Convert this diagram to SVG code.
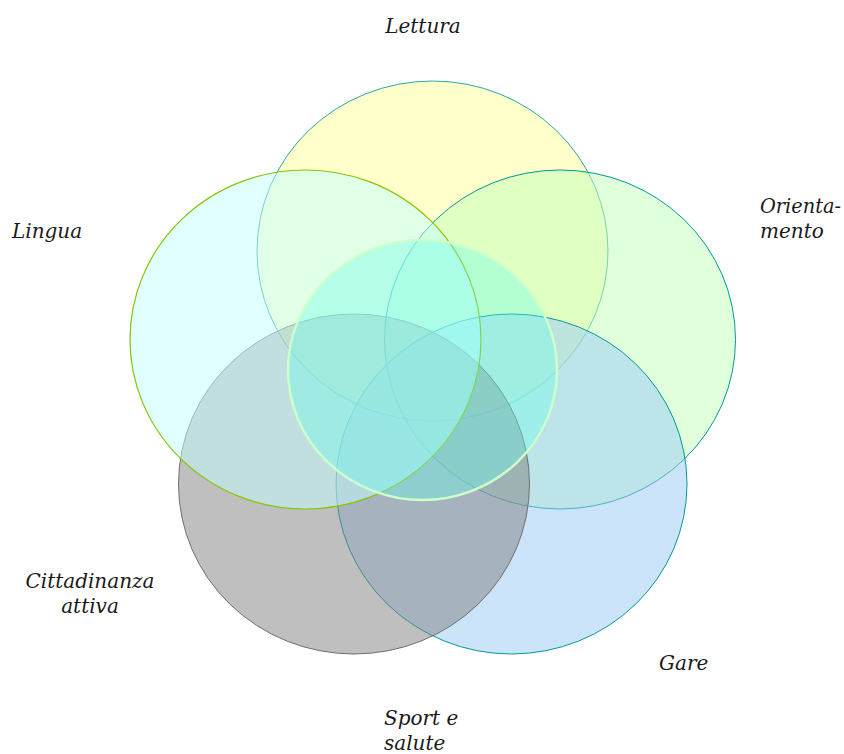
<svg xmlns="http://www.w3.org/2000/svg" width="844" height="754" viewBox="0 0 844 754">
<style>
.lbl{font-family:"DejaVu Serif","Liberation Serif",serif;font-style:italic;font-size:20px;fill:#1a1a1a}
.c{fill-opacity:0.5}
</style>
<rect width="844" height="754" fill="#ffffff"/>
<g id="node-lettura">
<ellipse class="c" cx="432.5" cy="251" rx="175.5" ry="170" fill="#FFFF99" stroke="#2AA8A8" stroke-width="1"/>
</g>
<g id="node-orientamento">
<ellipse class="c" cx="560" cy="339.5" rx="175.5" ry="169.5" fill="#C2FFB8" stroke="#009999" stroke-width="1"/>
</g>
<g id="node-gare">
<ellipse class="c" cx="511.5" cy="484" rx="175.5" ry="170" fill="#99C9F5" stroke="#009999" stroke-width="1"/>
</g>
<g id="node-cittadinanza">
<ellipse class="c" cx="354" cy="484" rx="175.5" ry="170" fill="#808080" stroke="#707070" stroke-width="1"/>
</g>
<g id="node-lingua">
<ellipse class="c" cx="305.5" cy="339.5" rx="175.5" ry="169.5" fill="#C4FFFF" stroke="#88C400" stroke-width="1.2"/>
</g>
<g id="node-center">
<ellipse cx="422.5" cy="370" rx="134.5" ry="130" fill="#66FFEE" fill-opacity="0.36" stroke="#CCFFCC" stroke-width="2.5"/>
</g>
<g id="connectors"></g>
<g id="labels">
<text class="lbl" x="423" y="33" text-anchor="middle">Lettura</text>
<text class="lbl" x="12" y="238">Lingua</text>
<text class="lbl" x="760" y="213" textLength="81" lengthAdjust="spacingAndGlyphs">Orienta-</text>
<text class="lbl" x="760" y="238">mento</text>
<text class="lbl" x="90" y="588" text-anchor="middle">Cittadinanza</text>
<text class="lbl" x="90" y="613" text-anchor="middle">attiva</text>
<text class="lbl" x="659" y="670">Gare</text>
<text class="lbl" x="384" y="725">Sport e</text>
<text class="lbl" x="384" y="750">salute</text>
</g>
</svg>
